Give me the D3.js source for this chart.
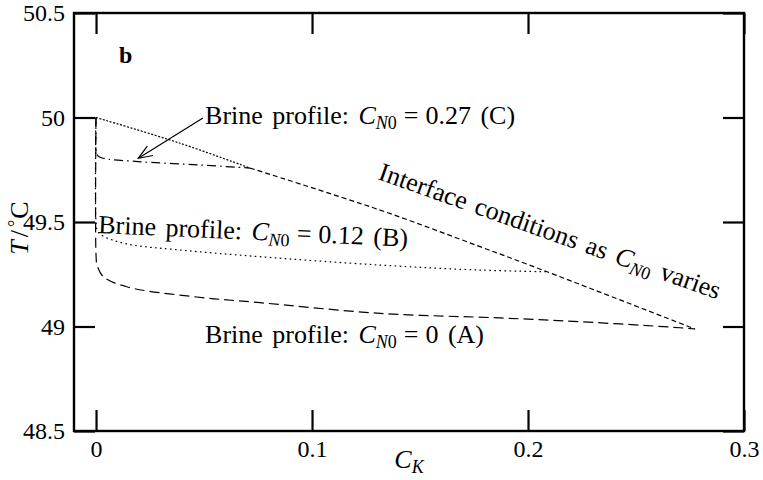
<!DOCTYPE html>
<html>
<head>
<meta charset="utf-8">
<script src="https://cdn.jsdelivr.net/npm/d3@7"></script>
<style>
    body { margin: 0; background: #fff; }
    svg { display: block; font-family: "Liberation Serif", "Times New Roman", serif; }
    .frame { fill: none; stroke: #000; stroke-width: 2.4; }
    .axis path { display: none; }
    .axis line { stroke: #000; stroke-width: 2.2; }
    .curve { fill: none; stroke: #000; stroke-width: 1.2; }
</style>
</head>
<body>
<svg id="chart" width="763" height="480"></svg>
<script>
const MARGINS = {top: 13, right: 19, bottom: 49, left: 74};

const xTicks = [0, 0.1, 0.2, 0.3];
const yTicks = [48.5, 49, 49.5, 50, 50.5];

// interface conditions as C_N0 varies  [C_K, T]
const interfaceLine = [
    [0, 50.0], [0.0389, 49.877], [0.0713, 49.758], [0.1315, 49.557],
    [0.1778, 49.382], [0.2088, 49.262], [0.2773, 48.988]
];

// brine profiles
const profileA = [
    [0, 50.0], [0, 49.342], [0.0005, 49.294], [0.0034, 49.238], [0.0142, 49.190],
    [0.0449, 49.143], [0.0759, 49.114], [0.1315, 49.063], [0.187, 49.041],
    [0.2241, 49.023], [0.2704, 48.994], [0.2773, 48.988]
];
const profileB = [
    [0, 50.0], [0, 49.50], [0.0007, 49.457], [0.0032, 49.433], [0.0142, 49.395],
    [0.0389, 49.366], [0.0759, 49.334], [0.1315, 49.294], [0.1778, 49.270],
    [0.2088, 49.262]
];
const profileC = [
    [0, 50.0], [0, 49.845], [0.0009, 49.816], [0.0028, 49.806], [0.0194, 49.789],
    [0.0481, 49.773], [0.0713, 49.758]
];

// annotation anchors in data units
const arrowFrom = [0.0495, 49.998];
const arrowTo = [0.0196, 49.805];

const labels = [
    {at: [0.0505, 49.969], angle: 0, main: "Brine profile: ", value: "0.27", rest: " (C)"},
    {at: [0.0009, 49.447], angle: 2.5, main: "Brine profile: ", value: "0.12", rest: " (B)"},
    {at: [0.0505, 48.921], angle: 0, main: "Brine profile: ", value: "0", rest: " (A)"},
    {at: [0.1301, 49.706], angle: 19.5, main: "Interface conditions as ", value: null, rest: " varies"}
];

const SERIF = "'Liberation Serif', 'Times New Roman', serif";

const svg = d3.select("#chart");
const w = 763 - MARGINS.left - MARGINS.right,
    h = 480 - MARGINS.top - MARGINS.bottom;
const g = svg.append("g")
    .attr("transform", `translate(${MARGINS.left},${MARGINS.top})`);

const x = d3.scaleLinear().domain([-0.0102, 0.3]).range([0, w]);
const y = d3.scaleLinear().domain([48.5, 50.5]).range([h, 0]);

// axes: ticks point inward, mirrored on top and right
const TICK = 21;
let styleTicks = sel => sel.selectAll("text")
    .attr("fill", "#000")
    .style("font-family", SERIF)
    .style("font-size", "24px");

g.append("g").attr("class", "axis")
    .attr("transform", `translate(0,${h})`)
    .call(d3.axisBottom(x).tickValues(xTicks).tickSize(-TICK).tickPadding(9)
        .tickFormat(d3.format("")))
    .call(styleTicks);
g.append("g").attr("class", "axis")
    .call(d3.axisTop(x).tickValues(xTicks).tickSize(-TICK).tickFormat(""));
g.append("g").attr("class", "axis")
    .call(d3.axisLeft(y).tickValues(yTicks).tickSize(-TICK).tickPadding(9)
        .tickFormat(d3.format("")))
    .call(styleTicks);
g.append("g").attr("class", "axis")
    .attr("transform", `translate(${w},0)`)
    .call(d3.axisRight(y).tickValues(yTicks).tickSize(-TICK).tickFormat(""));

g.append("rect").attr("class", "frame")
    .attr("width", w).attr("height", h);

// curves
let line = d3.line()
    .x(d => x(d[0]))
    .y(d => y(d[1]))
    .curve(d3.curveCatmullRom.alpha(0.5));

let curves = [
    {data: profileA, dash: "10,5"},
    {data: profileB, dash: "1.6,3.4"},
    {data: profileC, dash: "9,4,1.6,4"},
    {data: interfaceLine.slice(0, 3), dash: "2,1.6"},
    {data: interfaceLine.slice(2), dash: "5,3"}
];
g.selectAll("path.curve")
    .data(curves)
    .enter().append("path")
        .attr("class", "curve")
        .attr("d", d => line(d.data))
        .style("stroke-dasharray", d => d.dash);

// arrow
svg.append("defs").append("marker")
    .attr("id", "head")
    .attr("viewBox", "-14 -7 16 14")
    .attr("refX", 0).attr("refY", 0)
    .attr("markerWidth", 16).attr("markerHeight", 14)
    .attr("markerUnits", "userSpaceOnUse")
    .attr("orient", "auto")
    .append("path")
        .attr("d", "M-14,-5.5L0,0L-14,5.5")
        .attr("fill", "none").attr("stroke", "#000").attr("stroke-width", 1.2);

g.append("line")
    .attr("x1", x(arrowFrom[0])).attr("y1", y(arrowFrom[1]))
    .attr("x2", x(arrowTo[0])).attr("y2", y(arrowTo[1]))
    .attr("stroke", "#000").attr("stroke-width", 1.2)
    .attr("marker-end", "url(#head)");

// annotations: text plus a small math part  C_{N0} = value
let ann = g.selectAll("text.ann")
    .data(labels)
    .enter().append("text")
        .attr("class", "ann")
        .attr("transform", d => `translate(${x(d.at[0])},${y(d.at[1])}) rotate(${d.angle})`)
        .style("font-family", SERIF)
        .style("font-size", "26px")
        .style("word-spacing", "3px");
ann.append("tspan").text(d => d.main);
ann.append("tspan").style("font-style", "italic").text("C");
ann.append("tspan").style("font-style", "italic").style("font-size", "18px")
    .attr("dy", 5).text("N");
ann.append("tspan").style("font-size", "18px").text("0");
ann.filter(d => d.value !== null).append("tspan")
    .attr("dy", -5).attr("dx", 7).text("=");
ann.filter(d => d.value !== null).append("tspan")
    .attr("dx", 7).text(d => d.value);
ann.append("tspan")
    .attr("dy", d => d.value === null ? -5 : 0)
    .text(d => d.rest);

g.append("text")
    .attr("x", x(0.0106)).attr("y", y(50.261))
    .style("font-family", SERIF)
    .style("font-size", "24px").style("font-weight", "bold")
    .text("b");

// axis titles
let xt = svg.append("text")
    .attr("x", MARGINS.left + w / 2).attr("y", 468)
    .attr("text-anchor", "middle")
    .style("font-family", SERIF)
    .style("font-size", "26px");
xt.append("tspan").style("font-style", "italic").text("C");
xt.append("tspan").style("font-style", "italic").style("font-size", "18px")
    .attr("dy", 5).text("K");

let yt = svg.append("text")
    .attr("transform", "translate(28,228) rotate(-90)")
    .attr("text-anchor", "middle")
    .style("font-family", SERIF)
    .style("font-size", "26px");
yt.append("tspan").style("font-style", "italic").text("T");
yt.append("tspan").attr("dx", 3).text("/");
yt.append("tspan").attr("dx", 3).attr("dy", -7).style("font-size", "18px").text("\u00B0");
yt.append("tspan").attr("dx", 1).attr("dy", 7).text("C");
</script>
</body>
</html>
